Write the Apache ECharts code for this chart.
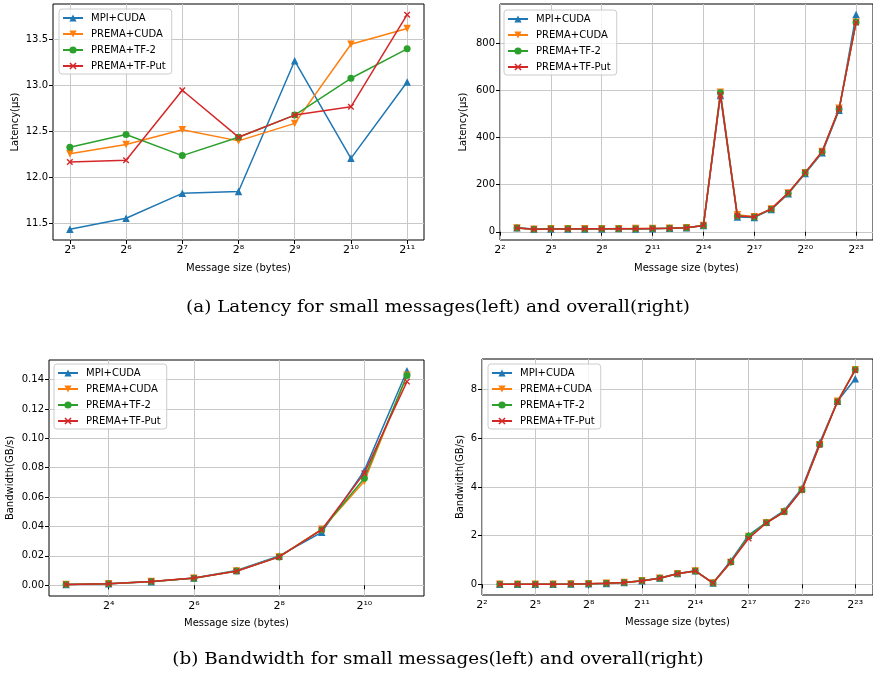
<!DOCTYPE html>
<html>
<head>
<meta charset="utf-8">
<script src="https://cdn.jsdelivr.net/npm/echarts@6/dist/echarts.min.js"></script>
<style>
html,body{margin:0;padding:0;background:#fff;}
#chart{width:873px;height:676px;}
</style>
</head>
<body>
<div id="chart"></div>
<script>
// ---------- DATA ----------
const seriesNames = ['MPI+CUDA', 'PREMA+CUDA', 'PREMA+TF-2', 'PREMA+TF-Put'];

// (a-left) latency, small messages: message size exponents 2^5..2^11
const latSmallExp = [5, 6, 7, 8, 9, 10, 11];
const latSmallMPI   = [11.44, 11.56, 11.83, 11.85, 13.27, 12.21, 13.04];
const latSmallCUDA  = [12.26, 12.36, 12.52, 12.40, 12.59, 13.45, 13.62];
const latSmallTF2   = [12.33, 12.47, 12.24, 12.44, 12.68, 13.08, 13.40];
const latSmallTFPut = [12.17, 12.19, 12.95, 12.44, 12.68, 12.77, 13.77];

// (a-right) latency overall: 2^3..2^23
const allExp = [3,4,5,6,7,8,9,10,11,12,13,14,15,16,17,18,19,20,21,22,23];
const latAllMPI   = [17, 12, 11.4, 11.6, 11.8, 11.9, 13.3, 12.2, 13.0, 15, 17, 27, 578, 63, 61, 95, 161, 247, 335, 516, 922];
const latAllCUDA  = [16, 11, 12.3, 12.4, 12.5, 12.4, 12.6, 13.5, 13.6, 15, 17, 27, 592, 72, 64, 97, 165, 251, 341, 524, 890];
const latAllTF2   = [16, 11, 12.3, 12.5, 12.2, 12.4, 12.7, 13.1, 13.4, 15, 17, 27, 590, 67, 63, 96, 164, 250, 340, 521, 889];
const latAllTFPut = [16, 11, 12.2, 12.2, 13.0, 12.4, 12.7, 12.8, 13.8, 15, 17, 27, 582, 67, 64, 97, 165, 251, 341, 521, 888];

// (b-left) bandwidth, small messages: 2^3..2^11
const bwSmallExp = [3, 4, 5, 6, 7, 8, 9, 10, 11];
const bwSmallMPI   = [0.0005, 0.0010, 0.0024, 0.0050, 0.0101, 0.0200, 0.0360, 0.0780, 0.1460];
const bwSmallCUDA  = [0.0005, 0.0011, 0.0025, 0.0048, 0.0097, 0.0193, 0.0382, 0.0708, 0.1430];
const bwSmallTF2   = [0.0005, 0.0011, 0.0025, 0.0048, 0.0097, 0.0193, 0.0378, 0.0728, 0.1428];
const bwSmallTFPut = [0.0005, 0.0011, 0.0025, 0.0049, 0.0095, 0.0193, 0.0378, 0.0763, 0.1386];

// (b-right) bandwidth overall: 2^3..2^23
const bwAllMPI   = [0.0005, 0.001, 0.0025, 0.005, 0.010, 0.020, 0.036, 0.078, 0.146, 0.26, 0.44, 0.56, 0.05, 0.97, 2.02, 2.55, 3.03, 3.95, 5.82, 7.52, 8.45];
const bwAllCUDA  = [0.0005, 0.001, 0.0025, 0.005, 0.010, 0.019, 0.038, 0.071, 0.143, 0.25, 0.43, 0.55, 0.05, 0.90, 1.96, 2.53, 2.98, 3.88, 5.74, 7.52, 8.82];
const bwAllTF2   = [0.0005, 0.001, 0.0025, 0.005, 0.010, 0.019, 0.038, 0.073, 0.143, 0.25, 0.43, 0.55, 0.05, 0.92, 1.97, 2.53, 2.98, 3.89, 5.75, 7.50, 8.82];
const bwAllTFPut = [0.0005, 0.001, 0.0025, 0.005, 0.010, 0.019, 0.038, 0.076, 0.139, 0.25, 0.43, 0.55, 0.05, 0.92, 1.88, 2.52, 2.97, 3.88, 5.74, 7.50, 8.80];

// tick labels
const xTicksLatSmall = [5, 6, 7, 8, 9, 10, 11];
const xTicksAll = [2, 5, 8, 11, 14, 17, 20, 23];
const xTicksBwSmall = [4, 6, 8, 10];
const yTicksLatSmall = [11.5, 12.0, 12.5, 13.0, 13.5];
const yTicksLatAll = [0, 200, 400, 600, 800];
const yTicksBwSmall = [0, 0.02, 0.04, 0.06, 0.08, 0.10, 0.12, 0.14];
const yTicksBwAll = [0, 2, 4, 6, 8];

const captionA = '(a) Latency for small messages(left) and overall(right)';
const captionB = '(b) Bandwidth for small messages(left) and overall(right)';

// ---------- STYLE ----------
const colors = ['#1f77b4', '#ff7f0e', '#2ca02c', '#d62728'];
const X_PATH = 'path://M0,1.5L1.5,0L5,3.5L8.5,0L10,1.5L6.5,5L10,8.5L8.5,10L5,6.5L1.5,10L0,8.5L3.5,5Z';
const symbols = [
  {symbol: 'triangle', symbolRotate: 0, symbolSize: 7.5},
  {symbol: 'triangle', symbolRotate: 180, symbolSize: 7.5},
  {symbol: 'circle', symbolRotate: 0, symbolSize: 7},
  {symbol: X_PATH, symbolRotate: 0, symbolSize: 6.5}
];
const SUP = {'0':'⁰','1':'¹','2':'²','3':'³','4':'⁴','5':'⁵','6':'⁶','7':'⁷','8':'⁸','9':'⁹'};
function pow2Label(v) {
  return '2' + String(Math.round(v)).split('').map(c => SUP[c]).join('');
}
const FONT = 'DejaVu Sans';

const grids = [
  {left: 53, top: 4, width: 371, height: 236},
  {left: 500, top: 4, width: 374, height: 236},
  {left: 49, top: 360, width: 375, height: 236},
  {left: 482, top: 359, width: 391, height: 236}
];

const xCfg = [
  {min: 4.7, max: 11.3, ticks: xTicksLatSmall, gap: 23},
  {min: 2, max: 24, ticks: xTicksAll, gap: 23},
  {min: 2.6, max: 11.4, ticks: xTicksBwSmall, gap: 22},
  {min: 2, max: 24, ticks: xTicksAll, gap: 22}
];
const yCfg = [
  {min: 11.3235, max: 13.8865, ticks: yTicksLatSmall, fmt: v => v.toFixed(1), name: 'Latency(\u03bcs)', gap: 33},
  {min: -35, max: 967, ticks: yTicksLatAll, fmt: v => String(Math.round(v)), name: 'Latency(\u03bcs)', gap: 32},
  {min: -0.0073, max: 0.1533, ticks: yTicksBwSmall, fmt: v => v.toFixed(2), name: 'Bandwidth(GB/s)', gap: 34},
  {min: -0.44, max: 9.26, ticks: yTicksBwAll, fmt: v => String(Math.round(v)), name: 'Bandwidth(GB/s)', gap: 17}
];

const panelData = [
  {x: latSmallExp, ys: [latSmallMPI, latSmallCUDA, latSmallTF2, latSmallTFPut]},
  {x: allExp, ys: [latAllMPI, latAllCUDA, latAllTF2, latAllTFPut]},
  {x: bwSmallExp, ys: [bwSmallMPI, bwSmallCUDA, bwSmallTF2, bwSmallTFPut]},
  {x: allExp, ys: [bwAllMPI, bwAllCUDA, bwAllTF2, bwAllTFPut]}
];

const legendPos = [
  {left: 59, top: 9},
  {left: 504, top: 10},
  {left: 54, top: 364},
  {left: 488, top: 364}
];

const xAxis = [], yAxis = [], series = [], legend = [];
for (let i = 0; i < 4; i++) {
  xAxis.push({
    type: 'value', gridIndex: i, min: xCfg[i].min, max: xCfg[i].max,
    axisLine: {show: false},
    axisTick: {show: true, length: 4, customValues: xCfg[i].ticks, lineStyle: {color: '#000', width: 1}},
    axisLabel: {customValues: xCfg[i].ticks, formatter: pow2Label, color: '#000', fontFamily: FONT, fontSize: 11, margin: 5},
    splitLine: {show: true, lineStyle: {color: '#c8c8c8', width: 1}},
    name: 'Message size (bytes)', nameLocation: 'middle', nameGap: xCfg[i].gap,
    nameTextStyle: {color: '#000', fontFamily: FONT, fontSize: 10}
  });
  yAxis.push({
    type: 'value', gridIndex: i, min: yCfg[i].min, max: yCfg[i].max,
    axisLine: {show: false},
    axisTick: {show: true, length: 4, customValues: yCfg[i].ticks, lineStyle: {color: '#000', width: 1}},
    axisLabel: {customValues: yCfg[i].ticks, formatter: yCfg[i].fmt, color: '#000', fontFamily: FONT, fontSize: 10, margin: 5},
    splitLine: {show: true, lineStyle: {color: '#c8c8c8', width: 1}},
    name: yCfg[i].name, nameLocation: 'middle', nameGap: yCfg[i].gap, nameRotate: 90,
    nameTextStyle: {color: '#000', fontFamily: FONT, fontSize: 10}
  });
  for (let s = 0; s < 4; s++) {
    const pd = panelData[i];
    series.push({
      type: 'line', name: seriesNames[s], xAxisIndex: i, yAxisIndex: i,
      data: pd.x.map((e, k) => [e, pd.ys[s][k]]),
      symbol: symbols[s].symbol, symbolRotate: symbols[s].symbolRotate, symbolSize: symbols[s].symbolSize,
      showAllSymbol: true,
      lineStyle: {color: colors[s], width: 1.5},
      itemStyle: {color: colors[s], borderWidth: 0},
      emphasis: {disabled: true},
      z: 2 + s
    });
  }
  legend.push({
    orient: 'vertical', left: legendPos[i].left, top: legendPos[i].top,
    data: seriesNames, itemWidth: 20, itemHeight: 9, itemGap: 6,
    padding: [4, 6, 3, 3],
    backgroundColor: 'rgba(255,255,255,0.8)', borderColor: '#cccccc', borderWidth: 1, borderRadius: 3,
    textStyle: {color: '#000', fontFamily: FONT, fontSize: 10, padding: [0, 0, 0, 3]},
    selectedMode: false
  });
}

const chart = echarts.init(document.getElementById('chart'), null, {renderer: 'canvas'});
chart.setOption({
  animation: false,
  backgroundColor: '#fff',
  grid: grids.map(g => Object.assign({show: true, borderColor: '#000', borderWidth: 1, backgroundColor: 'transparent', containLabel: false}, g)),
  xAxis: xAxis,
  yAxis: yAxis,
  legend: legend,
  series: series,
  graphic: [
    {type: 'text', x: 438, y: 299, scaleX: 1.08, style: {text: captionA, align: 'center', verticalAlign: 'top', fontFamily: 'DejaVu Serif', fontSize: 17, fill: '#000'}},
    {type: 'text', x: 438, y: 651, scaleX: 1.08, style: {text: captionB, align: 'center', verticalAlign: 'top', fontFamily: 'DejaVu Serif', fontSize: 17, fill: '#000'}}
  ]
});
</script>
</body>
</html>
